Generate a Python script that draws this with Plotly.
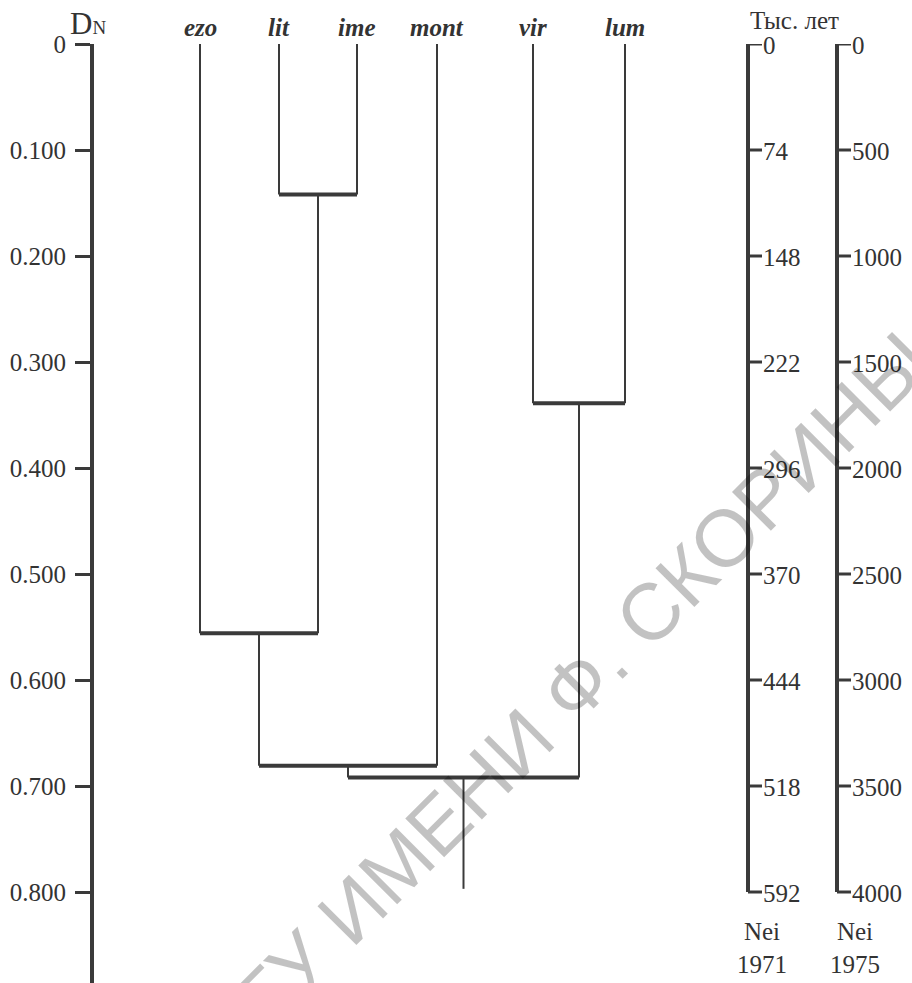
import plotly.graph_objects as go

# ---------------- data ----------------
leaves = ["ezo", "lit", "ime", "mont", "vir", "lum"]
# merges: node ids 0..5 are leaves, new clusters get ids 6, 7, ...
merge_a = [1, 4, 0, 8, 9]
merge_b = [2, 5, 6, 3, 7]
merge_height = [0.142, 0.339, 0.556, 0.681, 0.692]   # Nei D_N
root_height = 0.797

dn_ticks = [0, 0.1, 0.2, 0.3, 0.4, 0.5, 0.6, 0.7, 0.8]
dn_ticktext = ["0", "0.100", "0.200", "0.300", "0.400", "0.500", "0.600", "0.700", "0.800"]
nei1971_ticks = [0, 74, 148, 222, 296, 370, 444, 518, 592]          # тыс. лет
nei1975_ticks = [0, 500, 1000, 1500, 2000, 2500, 3000, 3500, 4000]  # тыс. лет
nei1971_per_dn = 740.0
nei1975_per_dn = 5000.0

# ---------------- layout helpers (pixel-like x scale) ----------------
W, H = 912, 983
TOP = 44
SCALE = 1060.0  # px per unit D
leaf_x = [200, 279, 357, 437, 533, 625]
ax1_x, ax2_x = 748, 837
tick_len = 14
label_drop = 4 / SCALE
LINE = "#3a3a3a"
TXT = "#333333"
SERIF = "Liberation Serif, Times New Roman, serif"

def py(p):  # pixel y -> paper y
    return 1 - (p - TOP) / (H - TOP)

# ---------------- dendrogram geometry ----------------
node_x = list(leaf_x)
node_h = [0.0] * len(leaves)
vx, vy, hx, hy = [], [], [], []
for a, b, h in zip(merge_a, merge_b, merge_height):
    for c in (a, b):
        vx += [node_x[c], node_x[c], None]
        vy += [node_h[c], h, None]
    hx += [node_x[a], node_x[b], None]
    hy += [h, h, None]
    node_x.append((node_x[a] + node_x[b]) / 2)
    node_h.append(h)
vx += [node_x[-1], node_x[-1], None]
vy += [node_h[-1], root_height, None]

fig = go.Figure()
fig.add_trace(go.Scatter(x=vx, y=vy, mode="lines", line=dict(color=LINE, width=2),
                         hoverinfo="skip", showlegend=False))
fig.add_trace(go.Scatter(x=hx, y=hy, mode="lines", line=dict(color=LINE, width=4),
                         hoverinfo="skip", showlegend=False))

# ---------------- right-hand time scales ----------------
for axx, ticks, per in [(ax1_x, nei1971_ticks, nei1971_per_dn),
                        (ax2_x, nei1975_ticks, nei1975_per_dn)]:
    d = [t / per for t in ticks]
    fig.add_trace(go.Scatter(x=[axx, axx], y=[d[0], d[-1]], mode="lines",
                             line=dict(color=LINE, width=4), hoverinfo="skip", showlegend=False))
    tx, ty = [], []
    for v in d:
        tx += [axx, axx + tick_len, None]
        ty += [v, v, None]
    fig.add_trace(go.Scatter(x=tx, y=ty, mode="lines", line=dict(color=LINE, width=3),
                             hoverinfo="skip", showlegend=False))
    fig.add_trace(go.Scatter(x=[axx + tick_len + 1] * len(d), y=[v + label_drop for v in d],
                             mode="text", text=[str(t) for t in ticks],
                             textposition="middle right",
                             textfont=dict(family=SERIF, size=25, color=TXT),
                             hoverinfo="skip", showlegend=False, cliponaxis=False))

# ---------------- annotations ----------------
ann = []
for name, x in zip(leaves, leaf_x):
    ann.append(dict(x=x, y=py(27), xref="x", yref="paper", text=name, showarrow=False,
                    xanchor="center", yanchor="middle",
                    font=dict(family=SERIF, size=25, color=TXT, style="italic", weight="bold")))
ann.append(dict(x=88, y=py(23), xref="x", yref="paper",
                text="D<span style='font-size:19px'>N</span>", showarrow=False,
                xanchor="center", yanchor="middle", font=dict(family=SERIF, size=31, color=TXT)))
ann.append(dict(x=794, y=py(20), xref="x", yref="paper", text="Тыс. лет", showarrow=False,
                xanchor="center", yanchor="middle", font=dict(family=SERIF, size=25, color=TXT)))
ann.append(dict(x=762, y=py(948), xref="x", yref="paper", text="Nei<br>1971", showarrow=False,
                xanchor="center", yanchor="middle", font=dict(family=SERIF, size=25, color=TXT)))
ann.append(dict(x=855, y=py(948), xref="x", yref="paper", text="Nei<br>1975", showarrow=False,
                xanchor="center", yanchor="middle", font=dict(family=SERIF, size=25, color=TXT)))
# watermark
ann.append(dict(x=567, y=py(695), xref="x", yref="paper", text="ГГУ ИМЕНИ Ф. СКОРИНЫ",
                showarrow=False, textangle=-45, xanchor="center", yanchor="middle",
                font=dict(family="Liberation Sans, Arial, sans-serif", size=80,
                          color="rgba(0,0,0,0.24)")))

fig.update_layout(
    width=W, height=H, autosize=False,
    margin=dict(l=0, r=0, t=TOP, b=0),
    paper_bgcolor="white", plot_bgcolor="white",
    xaxis=dict(visible=False, range=[0, W]),
    yaxis=dict(range=[(H - TOP) / SCALE, 0], anchor="free", position=92 / W,
               tickvals=dn_ticks, ticktext=dn_ticktext, ticks="outside", ticklen=15,
               tickwidth=3, tickcolor=LINE, showline=True, linewidth=4, linecolor=LINE,
               showgrid=False, zeroline=False, ticklabelstandoff=4,
               tickfont=dict(family=SERIF, size=25, color=TXT)),
    annotations=ann,
    showlegend=False,
)

fig.write_html("out.html", config={"displayModeBar": False},
               post_script="document.body.style.margin='0';document.body.style.overflow='hidden';")
